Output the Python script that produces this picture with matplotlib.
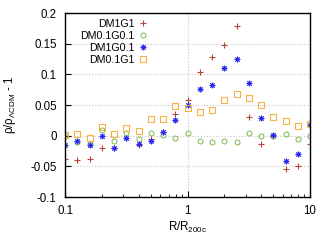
import matplotlib.pyplot as plt
import numpy as np

plt.rcParams['font.family'] = ['Liberation Sans', 'DejaVu Sans']
plt.rcParams['mathtext.fontset'] = 'custom'
plt.rcParams['mathtext.rm'] = 'Liberation Sans'

# radius bins, R/R200c (log spaced)
r = 10 ** np.linspace(-1, 1, 21)

dm1g1 = [-0.038, -0.040, -0.038, -0.020, -0.020, -0.003, -0.015, -0.006, 0.006, 0.036,
         0.058, 0.103, 0.129, 0.148, 0.178, 0.031, -0.014, 0.000, -0.054, -0.050, -0.013]
dm01g01 = [0.000, -0.011, -0.013, 0.009, -0.008, 0.005, -0.006, 0.004, 0.001, -0.003,
           0.005, -0.009, -0.011, -0.008, -0.010, 0.005, -0.001, 0.000, 0.003, -0.006, 0.000]
dm1g01 = [-0.016, -0.009, -0.015, -0.001, -0.020, -0.003, -0.013, -0.008, 0.006, 0.026,
          0.050, 0.076, 0.082, 0.111, 0.125, 0.086, 0.029, 0.001, -0.042, -0.030, 0.018]
dm01g1 = [0.001, 0.002, -0.003, 0.014, 0.002, 0.013, 0.007, 0.027, 0.027, 0.049,
          0.045, 0.038, 0.042, 0.058, 0.068, 0.062, 0.050, 0.030, 0.024, 0.016, 0.019]

labels = ['DM1G1', 'DM0.1G0.1', 'DM1G0.1', 'DM0.1G1']

fig = plt.figure(figsize=(3.32, 2.48), dpi=100)
ax = fig.add_axes([65 / 332, 51 / 248, 245 / 332, 184 / 248])

ax.plot(r, dm1g1, ls='none', marker='+', ms=4, mew=0.8, color='#b5453a', label=labels[0])
ax.plot(r, dm01g01, ls='none', marker='o', ms=3.6, mew=0.7, mfc='none', color='#7cb84c', label=labels[1])
ax.plot(r, dm1g01, ls='none', marker=(8, 2, 0), ms=4, mew=0.7, color='#2828f0', label=labels[2])
ax.plot(r, dm01g1, ls='none', marker='s', ms=4, mew=0.8, mfc='none', color='#f8b040', label=labels[3])

ax.set_xscale('log')
ax.set_xlim(0.1, 10)
ax.set_ylim(-0.1, 0.2)
ax.set_yticks([-0.1, -0.05, 0, 0.05, 0.1, 0.15, 0.2])
ax.set_yticklabels(['-0.1', '-0.05', '0', '0.05', '0.1', '0.15', '0.2'])
ax.set_xticks([0.1, 1, 10])
ax.set_xticklabels(['0.1', '1', '10'])

ax.grid(True, which='major', ls=':', lw=0.8, color='#c8c8c8')
ax.tick_params(which='both', direction='in', labelsize=8.3, top=False, right=False)
ax.tick_params(which='major', length=4, pad=6)
ax.tick_params(which='minor', length=2)
for s in ax.spines.values():
    s.set_linewidth(1.0)

ax.set_xlabel(r'R/R$_{\mathrm{200c}}$', fontsize=8.3, labelpad=2)
ax.set_ylabel(r'ρ/ρ$_{\mathrm{\Lambda CDM}}$ - 1', fontsize=8.3, labelpad=9)

ax.legend(loc='upper right', frameon=False, markerfirst=False, fontsize=7.7,
          handlelength=0.8, handletextpad=0.4, labelspacing=0.2,
          borderaxespad=0, borderpad=0, bbox_to_anchor=(0.335, 0.97))

fig.savefig('out.png', dpi=100)
